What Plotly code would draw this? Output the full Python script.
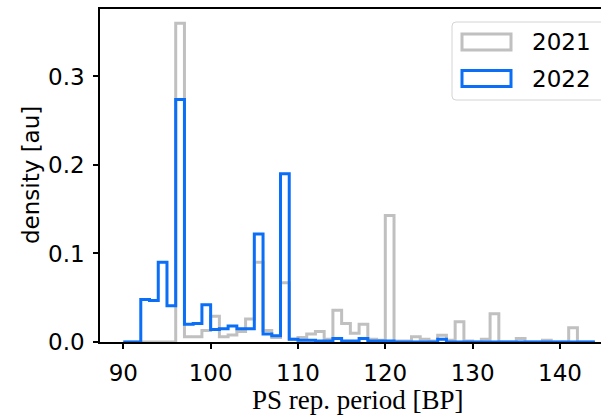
import plotly.graph_objects as go

# bin edges 90..144, width 1
bin_start = 90
bin_count = 54
edges = [bin_start + i for i in range(bin_count + 1)]

density_2021 = [
    0, 0, 0, 0, 0, 0,                 # 90-95
    0.360, 0.006, 0.006, 0.013,       # 96-99
    0.029, 0.006, 0.008, 0.012, 0.026,  # 100-104
    0.090, 0.013, 0.005, 0.067, 0.003,  # 105-109
    0.005, 0.009, 0.012, 0.003, 0.036,  # 110-114
    0.021, 0.010, 0.020, 0.003, 0.002,  # 115-119
    0.143, 0.001, 0.001, 0.006, 0.003,  # 120-124
    0.001, 0.0075, 0.002, 0.023, 0.001,  # 125-129
    0, 0.003, 0.032, 0, 0,            # 130-134
    0.004, 0, 0, 0.002, 0,            # 135-139
    0, 0.016, 0, 0,                   # 140-143
]

density_2022 = [
    0, 0, 0.048, 0.047, 0.090, 0.041,  # 90-95
    0.274, 0.020, 0.021, 0.042,        # 96-99
    0.014, 0.015, 0.018, 0.015, 0.015,  # 100-104
    0.122, 0.009, 0.007, 0.190, 0.003,  # 105-109
    0.002, 0.002, 0.001, 0.001, 0.004,  # 110-114
    0.001, 0.001, 0.004, 0.001, 0.001,  # 115-119
    0.001, 0, 0, 0, 0,                 # 120-124
    0, 0.003, 0, 0, 0,                 # 125-129
    0, 0, 0, 0, 0,                     # 130-134
    0, 0, 0, 0, 0,                     # 135-139
    0, 0, 0, 0,                        # 140-143
]

series_names = ["2021", "2022"]
series_colors = ["#c0c0c0", "#0a6ef7"]

fig = go.Figure()
for name, dens, col in zip(series_names, [density_2021, density_2022], series_colors):
    xs = [edges[0]] + edges
    ys = [0] + dens + [0]
    fig.add_trace(go.Scatter(x=xs, y=ys, mode="lines", line=dict(shape="hv", color=col, width=3),
                             name=name, showlegend=False, hoverinfo="skip"))

W, H = 601, 415
L, T, B = 100, 9, 73
R = 0
pw = W - L - R
ph = H - T - B


def px(xp):
    return (xp - L) / pw


def py(yp):
    return (H - B - yp) / ph


tickfont = dict(family="DejaVu Sans", size=23, color="black")

fig.update_layout(
    width=W, height=H,
    margin=dict(l=L, r=R, t=T, b=B, pad=0),
    plot_bgcolor="white", paper_bgcolor="white",
    xaxis=dict(range=[87.33, 144.7], tickvals=[90, 100, 110, 120, 130, 140],
               ticks="outside", ticklen=5, tickwidth=1.5, tickcolor="black",
               showline=True, linecolor="black", linewidth=1.5, mirror=True,
               showgrid=False, zeroline=False, tickfont=tickfont, ticklabelstandoff=5),
    yaxis=dict(range=[0, 0.3762], tickvals=[0, 0.1, 0.2, 0.3], tickformat=".1f",
               ticks="outside", ticklen=5, tickwidth=1.5, tickcolor="black",
               showline=True, linecolor="black", linewidth=1.5,
               showgrid=False, zeroline=False, tickfont=tickfont, ticklabelstandoff=4),
    showlegend=False,
)

# axis titles
fig.add_annotation(text="PS rep. period [BP]", xref="paper", yref="paper",
                   x=px(358), y=py(400), xanchor="center", yanchor="middle", showarrow=False,
                   font=dict(family="Liberation Serif", size=27, color="black"))
fig.add_annotation(text="density [au]", xref="paper", yref="paper", textangle=-90,
                   x=px(31), y=py(175), xanchor="center", yanchor="middle", showarrow=False,
                   font=dict(family="DejaVu Sans", size=23, color="black"))

# legend frame (rounded rectangle)
x0, x1, y0, y1, r = px(452), px(612), py(22), py(100), 4
rx, ry = r / pw, r / ph
path = (f"M{x0+rx},{y0} L{x1-rx},{y0} Q{x1},{y0} {x1},{y0-ry} L{x1},{y1+ry} "
        f"Q{x1},{y1} {x1-rx},{y1} L{x0+rx},{y1} Q{x0},{y1} {x0},{y1+ry} L{x0},{y0-ry} "
        f"Q{x0},{y0} {x0+rx},{y0} Z")
fig.add_shape(type="path", path=path, xref="paper", yref="paper",
              line=dict(color="#d4d4d4", width=1), fillcolor="rgba(255,255,255,0.85)", layer="above")

for i, (name, col) in enumerate(zip(series_names, series_colors)):
    cy = 42 + i * 36.5
    fig.add_shape(type="rect", xref="paper", yref="paper",
                  x0=px(462), x1=px(511), y0=py(cy - 8), y1=py(cy + 8),
                  line=dict(color=col, width=3), fillcolor="white", layer="above")
    fig.add_annotation(text=name, xref="paper", yref="paper", x=px(530), y=py(cy),
                       xanchor="left", yanchor="middle", showarrow=False,
                       font=dict(family="DejaVu Sans", size=23, color="black"))

fig.write_html("out.html")
